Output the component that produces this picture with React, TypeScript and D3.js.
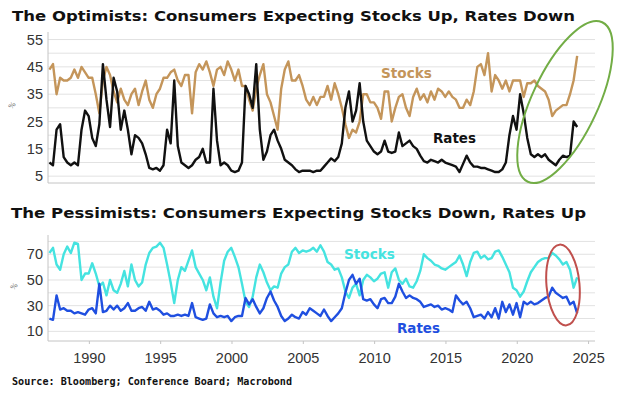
import * as React from 'react';
import * as d3 from 'd3';

// quarterly readings, first point at 1987.2
const startYear = 1987.2;
const step = 0.25;

const topStocks = [
  44, 46, 35, 41, 40, 40, 41, 44, 41, 45, 43, 41, 41, 35, 28, 40,
  45, 42, 36, 32, 37, 33, 31, 35, 37, 31, 36, 40, 33, 30, 35, 37,
  41, 41, 43, 44, 40, 38, 42, 42, 28, 43, 46, 44, 47, 43, 38, 44,
  45, 42, 47, 44, 40, 44, 38, 38, 33, 29, 37, 42, 46, 35, 32, 27,
  22, 37, 44, 47, 40, 40, 42, 38, 33, 31, 34, 31, 34, 34, 38, 33,
  39, 35, 30, 24, 19, 22, 21, 25, 35, 35, 32, 32, 30, 26, 36, 36,
  25, 30, 34, 35, 30, 27, 34, 37, 33, 35, 32, 36, 33, 37, 36, 34,
  36, 34, 33, 30, 30, 33, 31, 36, 45, 46, 42, 50, 36, 42, 40, 37,
  40, 36, 40, 40, 40, 34, 39, 39, 40, 38, 37, 36, 33, 27, 29, 30,
  31, 31, 35, 40, 49,
];

const topRates = [
  10, 9, 22, 24, 12, 10, 9, 10, 9, 22, 29, 27, 19, 16, 24, 46,
  33, 23, 41, 36, 22, 29, 22, 13, 20, 19, 17, 13, 8, 7.5, 8, 7,
  9, 22, 17, 40, 16, 10, 9, 8, 9, 11, 12, 15, 10, 10, 37, 18,
  9, 10, 9, 7, 6.5, 7, 10, 38, 35, 30, 46, 22, 11, 14, 20, 22,
  18, 15, 11, 10, 9, 7.5, 6.5, 7, 7, 7, 6.5, 7, 7, 8.5, 10, 11.5,
  10.5, 12, 17, 30, 36, 25, 29, 39, 25, 18, 16, 14, 13, 14, 18, 14,
  13.5, 14, 21, 16, 17, 18, 16, 15, 12.5, 10.5, 10, 11, 10.5, 10, 11, 10,
  9.5, 9, 8.5, 6.5, 9.5, 12.5, 10, 8.5, 8.5, 8, 8, 7.5, 7, 6.5, 6.5, 7.5,
  10, 20, 27, 22, 35, 28, 19, 13, 12, 13, 12, 13, 11, 10, 9, 11,
  12.5, 12, 12.5, 25, 23,
];

const bottomStocks = [
  71, 75, 62, 58, 70, 76, 71, 79, 78, 50, 55, 55, 63, 55, 45, 48,
  38, 50, 42, 40, 47, 57, 45, 62, 50, 45, 48, 62, 71, 75, 76, 79,
  75, 62, 48, 32, 50, 60, 57, 65, 73, 60, 55, 50, 42, 52, 37, 28,
  48, 65, 72, 75, 68, 60, 47, 33, 29, 37, 52, 62, 56, 48, 42, 45,
  44, 55, 60, 62, 72, 75, 71, 73, 72, 73, 75, 72, 77, 72, 64, 62,
  58, 59, 52, 41, 36, 44, 47, 38, 50, 54, 52, 49, 51, 55, 56, 44,
  56, 59, 50, 47, 51, 45, 44, 49, 57, 70, 67, 65, 62, 61, 59, 58,
  60, 62, 64, 69, 62, 53, 64, 71, 72, 67, 69, 66, 67, 72, 73, 68,
  62, 56, 44, 42, 37, 41, 49, 56, 60, 64, 66, 67, 67, 71, 69, 66,
  62, 64, 58, 44, 52,
];

const bottomRates = [
  20, 19, 38, 27, 28, 26, 26, 24, 25, 24, 23, 27, 28, 24, 47, 25,
  26, 30, 27, 30, 26, 28, 32, 26, 26, 28, 29, 26, 33, 27, 28, 26,
  23, 24, 22, 22, 23, 22, 23, 22, 32, 21, 20, 19, 20, 31, 24, 21,
  22, 21, 22, 18, 21, 22, 22, 36, 31, 35, 29, 24, 28, 36, 41, 34,
  29, 22, 18, 20, 23, 21, 20, 25, 23, 28, 26, 24, 22, 27, 22, 18,
  21, 24, 28, 40, 50, 54, 47, 51, 35, 34, 35, 31, 28, 35, 36, 32,
  32, 37, 47, 41, 36, 38, 36, 35, 33, 29, 30, 31, 29, 30, 27, 28,
  27, 25, 38, 34, 31, 33, 28, 21, 22, 23, 20, 25, 21, 28, 20, 33,
  25, 31, 23, 32, 21, 33, 31, 33, 31, 32, 34, 36, 37, 44, 40, 38,
  36, 37, 31, 33, 24,
];

const xTicks = [1990, 1995, 2000, 2005, 2010, 2015, 2020, 2025];
const topTicks = [5, 15, 25, 35, 45, 55];
const topGrid = [5, 10, 15, 20, 25, 30, 35, 40, 45, 50, 55];
const bottomTicks = [10, 30, 50, 70];
const bottomGrid = [10, 20, 30, 40, 50, 60, 70, 80];

const W = 620;
const H = 395;
const left = 48;
const right = 595;

const tan = '#c4955a';
const cyan = '#45e3e0';
const blue = '#1f4fe0';

const toPoints = (vals: number[]) => vals.map((v, i) => ({ t: startYear + i * step, v }));

export default function App() {
  const x = d3.scaleLinear().domain([1987.1, 2025.45]).range([left, right]);
  const yTop = d3.scaleLinear().domain([2.5, 57.5]).range([183, 32.7]);
  const yBot = d3.scaleLinear().domain([2.5, 85]).range([341, 235]);

  const lineTop = d3.line<{ t: number; v: number }>().x(d => x(d.t)).y(d => yTop(d.v));
  const lineBot = d3.line<{ t: number; v: number }>().x(d => x(d.t)).y(d => yBot(d.v));

  const tickFont = { fontFamily: 'Liberation Sans, Arial, sans-serif', fontSize: 14.5, fill: '#333' };
  const titleFont = { fontFamily: 'DejaVu Sans, Verdana, sans-serif', fontSize: 14, fontWeight: 'bold' as const, fill: '#111' };
  const labelFont = { fontFamily: 'DejaVu Sans, Verdana, sans-serif', fontSize: 14, fontWeight: 'bold' as const };

  return (
    <svg width={W} height={H} style={{ position: 'absolute', left: 0, top: 0, background: '#fff' }}>
      {/* titles */}
      <text x={12} y={21} textLength={563} lengthAdjust="spacingAndGlyphs" style={titleFont}>
        The Optimists: Consumers Expecting Stocks Up, Rates Down
      </text>
      <text x={11} y={218} textLength={575} lengthAdjust="spacingAndGlyphs" style={titleFont}>
        The Pessimists: Consumers Expecting Stocks Down, Rates Up
      </text>

      {/* top panel grid + axes */}
      {topGrid.map(g => (
        <line key={'tg' + g} x1={left} x2={right} y1={yTop(g)} y2={yTop(g)} stroke="#e2e2e2" strokeWidth={1} />
      ))}
      <line x1={left} x2={left} y1={32} y2={183} stroke="#c4c4c4" />
      <line x1={left} x2={right} y1={183} y2={183} stroke="#c4c4c4" />
      {topTicks.map(t => (
        <text key={'tt' + t} x={43} y={yTop(t) + 5} textAnchor="end" style={tickFont}>{t}</text>
      ))}
      <text x={14} y={107} fontSize={8} fill="#666" transform="rotate(-50 14 107)" textAnchor="middle">%</text>

      <path d={lineTop(toPoints(topStocks)) || ''} fill="none" stroke={tan} strokeWidth={2.4} strokeLinejoin="round" />
      <path d={lineTop(toPoints(topRates)) || ''} fill="none" stroke="#111" strokeWidth={2.4} strokeLinejoin="round" />

      <text x={381} y={78} textLength={51} lengthAdjust="spacingAndGlyphs" style={{ ...labelFont, fill: tan }}>Stocks</text>
      <text x={433} y={143} textLength={43} lengthAdjust="spacingAndGlyphs" style={{ ...labelFont, fill: '#111' }}>Rates</text>

      <ellipse cx={565} cy={102} rx={88} ry={33} fill="none" stroke="#72ad45" strokeWidth={2}
        transform="rotate(-65 565 102)" />

      {/* bottom panel grid + axes */}
      {bottomGrid.map(g => (
        <line key={'bg' + g} x1={left} x2={right} y1={yBot(g)} y2={yBot(g)} stroke="#e2e2e2" strokeWidth={1} />
      ))}
      <line x1={left} x2={left} y1={235} y2={341} stroke="#c4c4c4" />
      <line x1={left} x2={right} y1={341} y2={341} stroke="#c4c4c4" />
      {bottomTicks.map(t => (
        <text key={'bt' + t} x={43} y={yBot(t) + 5} textAnchor="end" style={tickFont}>{t}</text>
      ))}
      <text x={16} y={288} fontSize={8} fill="#666" transform="rotate(-50 16 288)" textAnchor="middle">%</text>
      {xTicks.map(t => (
        <g key={'xt' + t}>
          <line x1={x(t)} x2={x(t)} y1={341} y2={344} stroke="#c4c4c4" />
          <text x={x(t)} y={363} textAnchor="middle" style={tickFont}>{t}</text>
        </g>
      ))}

      <path d={lineBot(toPoints(bottomStocks)) || ''} fill="none" stroke={cyan} strokeWidth={2.4} strokeLinejoin="round" />
      <path d={lineBot(toPoints(bottomRates)) || ''} fill="none" stroke={blue} strokeWidth={2.4} strokeLinejoin="round" />

      <text x={344} y={258.5} textLength={51} lengthAdjust="spacingAndGlyphs" style={{ ...labelFont, fill: cyan }}>Stocks</text>
      <text x={397} y={332.5} textLength={43} lengthAdjust="spacingAndGlyphs" style={{ ...labelFont, fill: blue }}>Rates</text>

      <ellipse cx={563} cy={285} rx={16.5} ry={40.5} fill="none" stroke="#c0504d" strokeWidth={2}
        transform="rotate(-5 563 285)" />

      <text x={12} y={385} textLength={280} lengthAdjust="spacingAndGlyphs"
        style={{ fontFamily: 'DejaVu Sans Mono, monospace', fontSize: 10, fontWeight: 'bold', fill: '#111' }}>
        Source: Bloomberg; Conference Board; Macrobond
      </text>
    </svg>
  );
}
